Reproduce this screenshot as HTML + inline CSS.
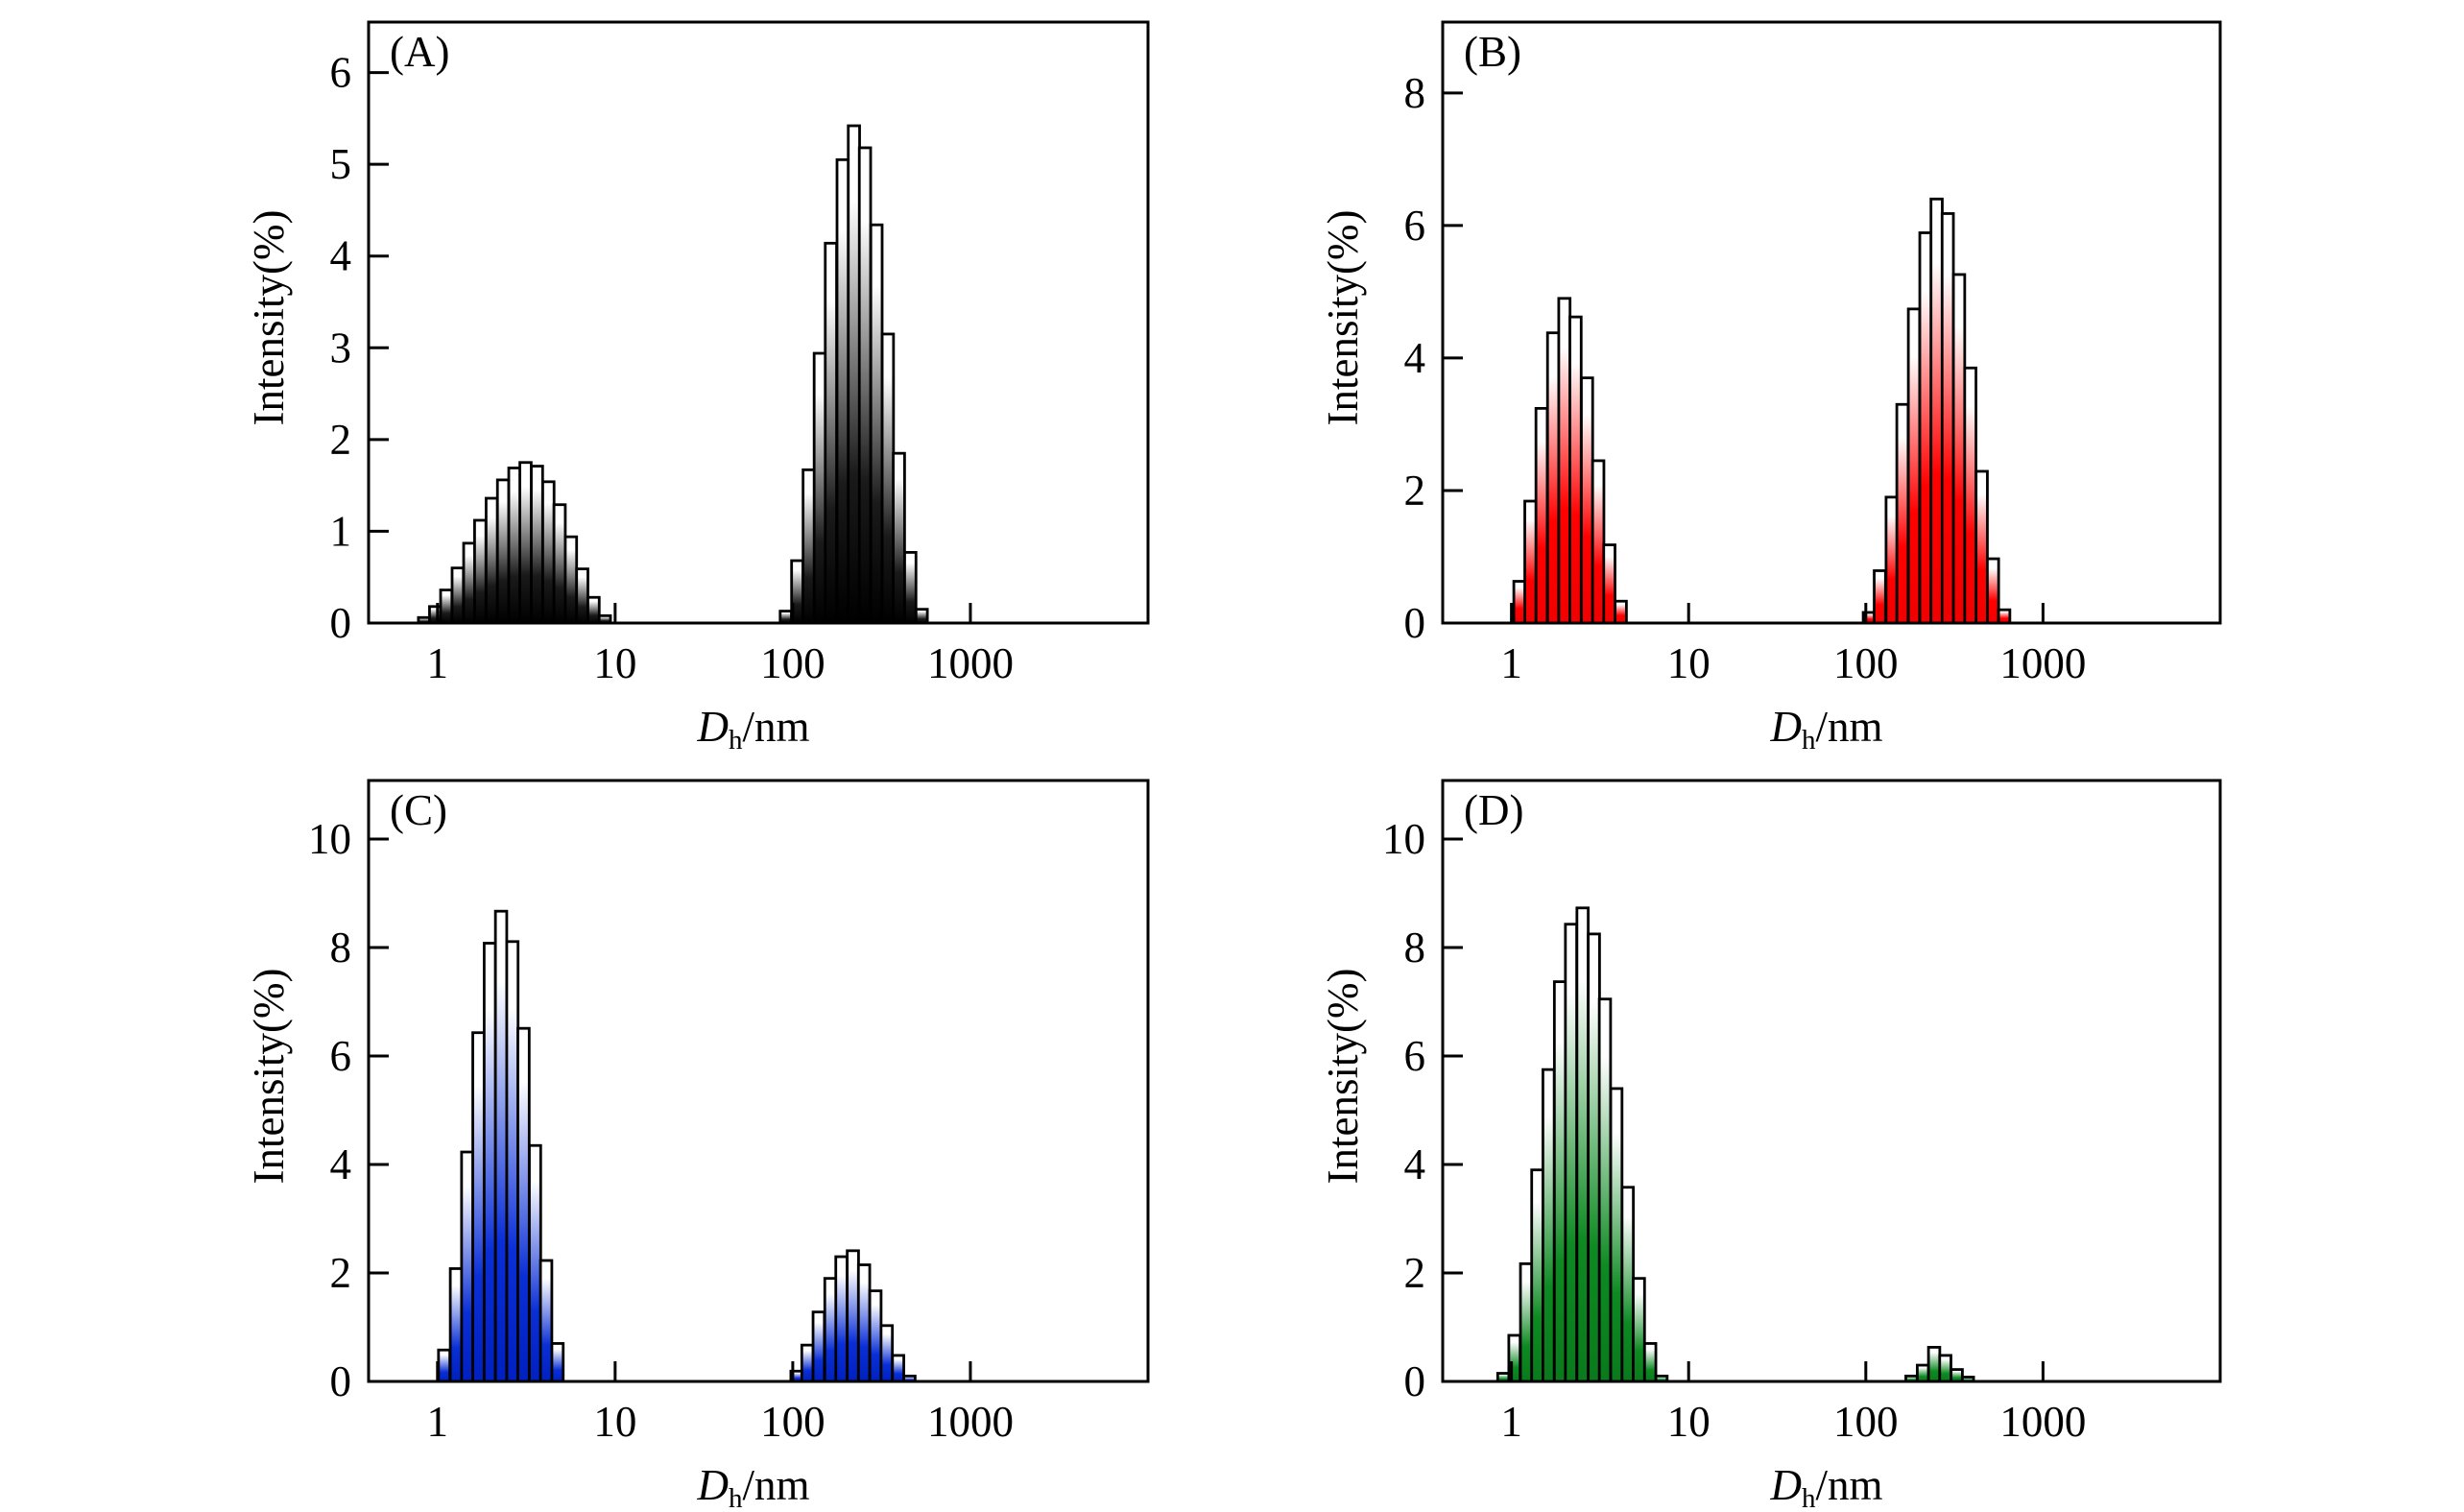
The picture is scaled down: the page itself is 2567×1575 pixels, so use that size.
<!DOCTYPE html>
<html><head><meta charset="utf-8"><style>
html,body{margin:0;padding:0;background:#fff;}
svg{display:block;font-family:"Liberation Serif",serif;}
</style></head><body>
<svg id="fig" width="2567" height="1575" viewBox="0 0 2567 1575" xmlns="http://www.w3.org/2000/svg">
<defs>
<linearGradient id="g-A" x1="0" y1="0" x2="0" y2="1"><stop offset="0" stop-color="#fff"/><stop offset="0.15" stop-color="#fff"/><stop offset="0.7" stop-color="#1a1a1a"/><stop offset="1" stop-color="#000"/></linearGradient>
<linearGradient id="g-B" x1="0" y1="0" x2="0" y2="1"><stop offset="0" stop-color="#fff"/><stop offset="0.15" stop-color="#fff"/><stop offset="0.65" stop-color="#ff0000"/><stop offset="1" stop-color="#f00000"/></linearGradient>
<linearGradient id="g-C" x1="0" y1="0" x2="0" y2="1"><stop offset="0" stop-color="#fff"/><stop offset="0.15" stop-color="#fff"/><stop offset="0.7" stop-color="#0a2fd6"/><stop offset="1" stop-color="#0020c0"/></linearGradient>
<linearGradient id="g-D" x1="0" y1="0" x2="0" y2="1"><stop offset="0" stop-color="#fff"/><stop offset="0.15" stop-color="#fff"/><stop offset="0.7" stop-color="#0d8a22"/><stop offset="1" stop-color="#0a7a1c"/></linearGradient>
</defs>
</svg>
<script>
// Panel A data
const sizesA = [0.84,0.97,1.12,1.30,1.51,1.74,2.02,2.34,2.71,3.13,3.63,4.21,4.87,5.64,6.53,7.56,8.75,
  91.4,106,123,142,164,191,221,255,296,343,396,459,532];
const valuesA = [0.06,0.18,0.36,0.60,0.87,1.12,1.36,1.56,1.69,1.75,1.71,1.54,1.29,0.94,0.59,0.28,0.08,
  0.13,0.68,1.67,2.94,4.14,5.05,5.42,5.18,4.34,3.15,1.85,0.77,0.15];
// Panel B data
const sizesB = [1.11,1.28,1.48,1.72,1.99,2.30,2.67,3.09,3.57,4.14,
  104,120,140,161,187,217,251,290,336,389,451,522,604];
const valuesB = [0.63,1.84,3.24,4.38,4.90,4.62,3.70,2.45,1.18,0.33,
  0.16,0.79,1.90,3.30,4.74,5.89,6.40,6.18,5.26,3.85,2.29,0.97,0.20];
// Panel C data
const sizesC = [1.09,1.27,1.47,1.70,1.97,2.28,2.64,3.05,3.54,4.09,4.74,
  105,121,140,163,188,218,252,292,338,392,454];
const valuesC = [0.58,2.08,4.23,6.43,8.08,8.67,8.11,6.51,4.35,2.23,0.70,
  0.19,0.67,1.28,1.90,2.30,2.41,2.15,1.67,1.03,0.48,0.10];
// Panel D data
const sizesD = [0.90,1.04,1.21,1.40,1.62,1.88,2.17,2.52,2.92,3.37,3.91,4.53,5.24,6.07,7.03,
  181,210,243,281,326,377];
const valuesD = [0.15,0.85,2.17,3.90,5.75,7.37,8.43,8.73,8.25,7.05,5.40,3.58,1.90,0.70,0.10,
  0.10,0.30,0.63,0.48,0.22,0.08];
// Tick labels
const xTickValues = [1,10,100,1000];
const xTickLabels = ["1","10","100","1000"];
const yTicksA = [0,1,2,3,4,5,6];
const yTicksB = [0,2,4,6,8];
const yTicksCD = [0,2,4,6,8,10];
const binWidthLog = 0.0637;

const NS = "http://www.w3.org/2000/svg";
const svg = document.getElementById('fig');
function mk(tag, attrs, parent){const e=document.createElementNS(NS,tag);for(const k in attrs)e.setAttribute(k,attrs[k]);(parent||svg).appendChild(e);return e;}

const panels = [
 {id:'A',label:'(A)',left:384,right:1196,top:23,bottom:649,ymax:6.55,yt:yTicksA,sizes:sizesA,vals:valuesA},
 {id:'B',label:'(B)',left:1503,right:2313,top:23,bottom:649,ymax:9.07,yt:yTicksB,sizes:sizesB,vals:valuesB},
 {id:'C',label:'(C)',left:384,right:1196,top:813,bottom:1439,ymax:11.08,yt:yTicksCD,sizes:sizesC,vals:valuesC},
 {id:'D',label:'(D)',left:1503,right:2313,top:813,bottom:1439,ymax:11.08,yt:yTicksCD,sizes:sizesD,vals:valuesD}
];
const LMIN=-0.388, LMAX=4.0;
const FS=45;
panels.forEach(p=>{
  const g = mk('g',{});
  
  
  const xs = l => p.left + (l-LMIN)/(LMAX-LMIN)*(p.right-p.left);
  const ys = v => p.bottom - v/p.ymax*(p.bottom-p.top);
  p.sizes.forEach((d,i)=>{
    const lc=Math.log10(d);
    const x0=xs(lc-binWidthLog/2), x1=xs(lc+binWidthLog/2), y=ys(p.vals[i]);
    const r=mk('rect',{x:x0,y:y,width:x1-x0,height:p.bottom-y,fill:'url(#g-'+p.id+')',stroke:'#000','stroke-width':2.8},g);
    
    
  });
  const f=mk('rect',{x:p.left,y:p.top,width:p.right-p.left,height:p.bottom-p.top,fill:'none',stroke:'#000','stroke-width':3},g);
  
  
  xTickValues.forEach((v,i)=>{
    const x=xs(Math.log10(v));
    mk('line',{x1:x,x2:x,y1:p.bottom,y2:p.bottom-21,stroke:'#000','stroke-width':3},g);
    const t=mk('text',{x:x,y:p.bottom+57,'font-size':FS,'text-anchor':'middle'},g);
    t.textContent=xTickLabels[i];
    
    
  });
  p.yt.forEach(v=>{
    const y=ys(v);
    mk('line',{x1:p.left,x2:p.left+21,y1:y,y2:y,stroke:'#000','stroke-width':3},g);
    const t=mk('text',{x:p.left-18,y:y+15,'font-size':FS,'text-anchor':'end'},g);
    t.textContent=String(v);
    
    
  });
  const pl=mk('text',{x:p.left+22,y:p.top+46,'font-size':FS},g);
  pl.textContent=p.label;
  
  
  const cy=(p.top+p.bottom)/2 - 5;
  const yt=mk('text',{x:0,y:0,'font-size':FS,'text-anchor':'middle',transform:`translate(${p.left-89},${cy}) rotate(-90)`},g);
  yt.textContent='Intensity(%)';
  
  
  const cx=(p.left+p.right)/2 - 5;
  const xt=mk('text',{x:cx,y:p.bottom+123,'font-size':FS,'text-anchor':'middle'},g);
  
  
  const t1=mk('tspan',{'font-style':'italic'},xt); t1.textContent='D';
  const t2=mk('tspan',{'font-size':29,dy:8},xt); t2.textContent='h';
  const t3=mk('tspan',{dy:-8},xt); t3.textContent='/nm';
});
</script>
</body></html>
